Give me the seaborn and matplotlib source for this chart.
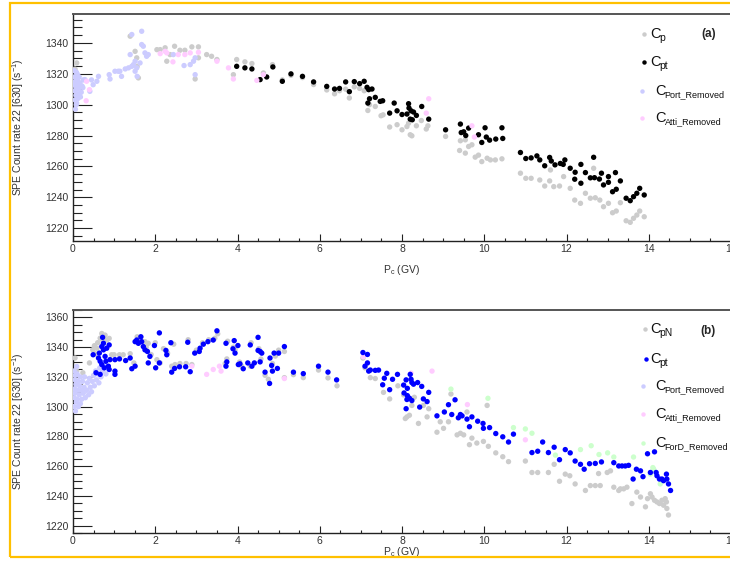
import matplotlib
matplotlib.use("Agg")
import matplotlib.pyplot as plt
from matplotlib.ticker import MultipleLocator
from matplotlib.patches import Rectangle
import seaborn as sns
import pandas as pd

W, H = 730, 567

# ---------------- panel (a) ----------------
a_cp_x = [0.09, 0.05, 0.12, 1.39, 1.51, 1.55, 1.56, 1.59, 2.04, 2.12, 2.24, 2.28, 2.36, 2.47, 2.60,
          2.72, 2.89, 3.05, 3.05, 2.97, 3.25, 3.37, 3.50, 3.90, 3.98, 4.18, 4.35, 4.63, 4.85,
          5.09, 5.30, 5.58, 5.85, 6.17, 6.36, 6.48, 6.63, 6.72, 6.84, 6.97, 7.08, 7.17, 7.21, 7.35,
          7.49, 7.54, 7.70, 7.88, 8.00, 8.12, 8.20, 8.24, 8.35, 8.47, 8.59, 8.63, 8.16, 9.06, 9.42,
          9.54, 9.62, 9.70, 9.40, 9.54, 9.78, 9.86, 9.94, 10.07, 10.15, 10.27, 10.43, 10.88, 11.01,
          11.14, 11.35, 11.47, 11.59, 11.61, 11.69, 11.83, 11.93, 12.09, 12.20, 12.34, 12.46, 12.58,
          12.70, 12.66, 12.81, 12.90, 13.02, 13.12, 13.21, 13.31, 13.45, 13.55, 13.63, 13.71, 13.78,
          13.89]
a_cp_y = [1327.0, 1323.0, 1318.0, 1344.3, 1334.5, 1330.3, 1324.8, 1317.3, 1335.6, 1335.6, 1336.8,
          1328.1, 1332.4, 1337.8, 1335.2, 1335.2, 1337.4, 1337.4, 1330.3, 1316.6, 1332.4, 1331.3,
          1329.2, 1319.4, 1329.2, 1327.7, 1326.6, 1320.5, 1325.9, 1316.0, 1319.0, 1317.5, 1313.0,
          1309.5, 1307.0, 1309.0, 1310.0, 1304.3, 1311.5, 1310.5, 1309.0, 1296.2, 1300.0, 1298.8,
          1292.8, 1293.4, 1285.5, 1287.0, 1283.7, 1285.8, 1280.5, 1279.8, 1286.3, 1289.7, 1284.2,
          1286.3, 1288.0, 1279.4, 1276.6, 1277.2, 1272.9, 1274.0, 1270.3, 1268.6, 1266.0, 1267.3,
          1263.1, 1265.3, 1264.2, 1264.2, 1264.9, 1255.6, 1252.3, 1252.3, 1251.2, 1247.3, 1250.6,
          1257.7, 1246.9, 1247.3, 1253.4, 1245.8, 1238.2, 1236.1, 1242.6, 1239.4, 1239.7, 1258.8,
          1238.2, 1233.9, 1236.1, 1230.0, 1231.1, 1236.5, 1224.8, 1223.8, 1226.4, 1228.5, 1231.1,
          1227.4]

a_cpt_x = [3.98, 4.18, 4.35, 4.55, 4.71, 4.86, 5.09, 5.30, 5.58, 5.85, 6.17, 6.36, 6.48, 6.63,
           6.72, 6.84, 6.97, 7.08, 7.15, 7.19, 7.27, 7.21, 7.17, 7.35, 7.47, 7.53, 7.81, 7.70, 7.88,
           8.00, 8.12, 8.16, 8.17, 8.22, 8.28, 8.20, 8.25, 8.35, 8.48, 8.65, 9.06, 9.42, 9.50, 9.55,
           9.44, 9.62, 9.86, 10.02, 9.94, 10.05, 10.13, 10.28, 10.43, 10.45, 10.88, 11.01, 11.14,
           11.28, 11.35, 11.47, 11.59, 11.63, 11.72, 11.85, 11.92, 11.96, 12.09, 12.21, 12.20, 12.35,
           12.35, 12.46, 12.58, 12.68, 12.66, 12.80, 12.85, 12.90, 13.02, 13.02, 13.12, 13.21, 13.19,
           13.31, 13.45, 13.55, 13.63, 13.71, 13.78, 13.89]
a_cpt_y = [1324.8, 1323.8, 1323.1, 1316.2, 1317.9, 1324.4, 1315.1, 1319.9, 1318.3, 1314.7, 1311.8,
           1310.1, 1310.5, 1314.7, 1308.4, 1314.9, 1313.6, 1315.1, 1311.2, 1309.7, 1310.1, 1303.8,
           1301.0, 1304.7, 1302.1, 1302.5, 1301.0, 1294.5, 1296.0, 1293.6, 1293.9, 1300.6, 1297.8,
           1296.0, 1295.2, 1290.6, 1290.2, 1293.0, 1298.8, 1290.6, 1283.7, 1287.4, 1282.4, 1280.0,
           1281.9, 1284.8, 1280.5, 1285.0, 1275.5, 1279.0, 1277.0, 1277.7, 1285.0, 1278.1, 1269.0,
           1265.1, 1265.5, 1266.8, 1264.2, 1260.4, 1265.8, 1263.5, 1261.0, 1261.9, 1261.3, 1264.2,
           1258.8, 1256.2, 1251.7, 1261.3, 1249.1, 1256.0, 1252.6, 1252.7, 1265.9, 1251.8, 1255.6,
           1248.0, 1253.4, 1249.7, 1243.6, 1245.2, 1256.0, 1250.6, 1239.4, 1237.8, 1240.4, 1242.6,
           1245.8, 1241.5]

a_port_x = [0.03, 0.04, 0.05, 0.06, 0.04, 0.07, 0.05, 0.08, 0.06, 0.10, 0.11, 0.12, 0.10, 0.13,
            0.12, 0.09, 0.15, 0.17, 0.16, 0.20, 0.18, 0.22, 0.25, 0.03, 0.08, 0.24, 0.29, 0.41, 0.45,
            0.49, 0.58, 0.62, 0.90, 0.88, 1.02, 1.10, 1.14, 1.18, 1.27, 1.35, 1.39, 1.43, 1.47, 1.51,
            1.51, 1.55, 1.56, 1.63, 1.43, 1.67, 1.67, 1.71, 1.75, 1.79, 1.83, 2.44, 2.70, 2.85, 2.93,
            2.97, 2.97]
a_port_y = [1322.0, 1318.0, 1315.0, 1312.0, 1309.0, 1306.0, 1303.0, 1300.0, 1297.0, 1320.0, 1316.0,
            1313.0, 1310.0, 1307.0, 1304.0, 1301.0, 1318.0, 1314.0, 1311.0, 1308.0, 1305.0, 1312.0,
            1316.0, 1313.0, 1321.0, 1311.0, 1316.2, 1308.6, 1316.0, 1312.9, 1315.1, 1318.3, 1316.6,
            1319.4, 1321.6, 1321.6, 1321.6, 1318.3, 1323.1, 1323.8, 1332.4, 1324.8, 1325.9, 1328.1,
            1321.6, 1323.8, 1318.3, 1327.0, 1345.4, 1347.5, 1338.9, 1337.8, 1333.5, 1331.3, 1332.4,
            1332.4, 1325.3, 1325.9, 1328.1, 1319.4, 1330.3]

a_atti_x = [0.33, 0.40, 0.32, 2.12, 2.24, 2.28, 2.43, 2.56, 2.72, 2.85, 3.05, 3.50, 3.78, 3.90,
            4.47, 4.63, 8.65, 8.59, 9.70, 9.76]
a_atti_y = [1315.1, 1309.7, 1302.5, 1333.0, 1334.5, 1333.5, 1327.7, 1332.4, 1332.4, 1333.5, 1333.9,
            1328.1, 1323.8, 1316.6, 1315.7, 1319.4, 1303.8, 1294.5, 1286.3, 1279.0]

# ---------------- panel (b) ----------------
b_cpn_x = [0.05, 0.09, 0.24, 0.40, 0.48, 0.54, 0.58, 0.70, 0.72, 0.78, 0.82, 0.88, 0.94, 1.00,
           1.13, 1.22, 1.39, 1.48, 1.56, 1.65, 1.75, 1.83, 2.04, 2.12, 2.40, 2.48, 2.60, 2.75, 2.89,
           0.52, 0.60, 0.66, 1.60, 1.78, 1.90, 2.00, 2.20, 2.30, 2.45, 2.80, 3.00, 3.15, 3.30, 3.45,
           3.52, 3.70, 3.74, 3.76, 3.90, 3.94, 4.05, 4.10, 4.31, 4.33, 4.52, 4.57, 4.67, 4.75, 4.85,
           4.92, 5.00, 5.14, 5.14, 5.36, 5.60, 5.97, 6.20, 6.42,
           7.05, 7.10, 7.23, 7.35, 7.55, 7.70, 7.90, 8.04, 8.08, 8.12, 8.18, 8.24, 8.30, 8.40, 8.52,
           8.61, 8.65, 8.85, 8.93, 9.01, 9.13, 9.19, 9.34, 9.42, 9.50, 9.58, 9.64, 9.70, 9.82, 9.98,
           10.07, 10.10, 10.28, 10.45, 10.59, 11.00, 11.16, 11.30, 11.56, 11.70, 11.83, 11.97, 12.08,
           12.21, 12.46, 12.58, 12.70, 12.82, 12.78, 12.99, 13.07, 13.15, 13.27, 13.31, 13.39, 13.47,
           13.59, 13.71, 13.80, 13.92, 13.97, 14.08, 14.14, 14.20, 14.26, 14.32, 14.36, 14.43, 14.44,
           14.48, 14.40, 14.04]
b_cpn_y = [1332.7, 1323.9, 1322.8, 1329.4, 1338.2, 1335.6, 1339.3, 1349.2, 1344.8, 1348.1, 1344.8,
           1345.9, 1334.9, 1334.9, 1334.9, 1334.9, 1335.6, 1329.4, 1347.0, 1346.6, 1343.7, 1342.6,
           1331.6, 1329.4, 1327.2, 1328.3, 1329.0, 1329.0, 1328.3,
           1341.0, 1343.0, 1346.0, 1345.0, 1340.0, 1335.0, 1343.0, 1339.0, 1336.0, 1342.0, 1345.0,
           1338.0, 1343.0, 1345.0, 1346.0, 1349.0, 1329.0, 1332.1, 1344.0, 1340.0, 1338.2, 1330.0,
           1327.2, 1327.2, 1343.0, 1339.0, 1332.0, 1321.1, 1318.4, 1329.0, 1334.0, 1338.0, 1337.1,
           1319.5, 1321.5, 1319.5, 1324.6, 1319.3, 1314.0,
           1332.7, 1326.1, 1319.5, 1318.9, 1309.6, 1305.2, 1314.0, 1307.9, 1292.0, 1293.1, 1294.2,
           1300.8, 1306.3, 1288.7, 1300.8, 1293.1, 1298.6, 1282.8, 1289.8, 1285.4, 1289.8, 1308.5,
           1281.0, 1282.1, 1281.0, 1296.4, 1274.4, 1278.8, 1275.5, 1276.6, 1300.8, 1273.3, 1268.9,
           1266.3, 1263.0, 1263.4, 1255.7, 1255.7, 1255.7, 1261.2, 1249.8, 1254.6, 1253.5, 1248.0,
           1243.6, 1246.9, 1246.9, 1246.9, 1255.0, 1255.7, 1256.8, 1245.8, 1243.6, 1244.7, 1244.7,
           1245.8, 1234.8, 1242.5, 1239.2, 1232.6, 1238.1, 1239.2, 1237.0, 1235.9, 1234.8, 1237.0,
           1233.7, 1235.9, 1231.5, 1227.1, 1238.1, 1241.4]

b_cpt_x = [0.49, 0.56, 0.66, 0.62, 0.64, 0.66, 0.70, 0.70, 0.72, 0.74, 0.74, 0.78, 0.76, 0.80,
           0.82, 0.86, 0.88, 0.88, 0.90, 1.02, 1.02, 1.02, 1.13, 1.28, 1.39, 1.43, 1.51, 1.51, 1.55,
           1.59, 1.65, 1.67, 1.71, 1.75, 1.81, 1.83, 1.87, 1.98, 2.01, 2.10, 2.10, 2.26, 2.28, 2.38,
           2.40, 2.47, 2.59, 2.74, 2.79, 2.85, 2.96, 3.07, 3.09, 3.17, 3.28, 3.41, 3.50, 3.72, 3.74,
           3.72, 3.89, 3.92, 3.94, 4.01, 4.02, 4.06, 4.14, 4.25, 4.31, 4.35, 4.41, 4.50, 4.50, 4.55,
           4.55, 4.59, 4.67, 4.78, 4.79, 4.83, 4.85, 4.89, 4.97, 5.00, 5.14, 5.36, 5.60, 5.97, 6.20,
           6.41,
           7.05, 7.16, 7.16, 7.10, 7.19, 7.23, 7.35, 7.43, 7.63, 7.57, 7.77, 7.89, 7.53, 7.70, 8.04,
           8.10, 8.13, 8.20, 8.22, 8.24, 8.28, 8.38, 8.48, 8.05, 8.13, 8.18, 8.12, 8.24, 8.10, 8.43,
           8.52, 8.61, 8.65, 8.85, 9.03, 9.13, 9.21, 9.29, 9.37, 9.42, 9.46, 9.58, 9.64, 9.70, 9.84,
           9.97, 9.98, 10.13, 10.28, 10.45, 10.59, 10.71, 11.16, 11.30, 11.42, 11.56, 11.70, 11.83,
           11.97, 12.09, 12.21, 12.34, 12.43, 12.56, 12.70, 12.85, 13.15, 13.27, 13.35, 13.43, 13.51,
           13.62, 13.70, 13.80, 13.86, 13.97, 14.14, 14.04, 14.18, 14.20, 14.26, 14.32, 14.36, 14.43,
           14.44, 14.48, 14.53]
b_cpt_y = [1334.9, 1322.8, 1321.7, 1332.7, 1336.0, 1330.5, 1340.4, 1328.3, 1346.6, 1342.6, 1338.2,
           1333.8, 1326.1, 1330.5, 1339.3, 1327.2, 1341.5, 1325.0, 1331.6, 1323.9, 1321.7, 1331.6,
           1332.1, 1331.0, 1332.7, 1325.5, 1327.2, 1343.7, 1344.8, 1342.6, 1347.0, 1343.7, 1340.4,
           1338.2, 1337.1, 1329.4, 1333.8, 1341.1, 1326.1, 1329.4, 1349.6, 1337.8, 1334.9, 1343.0,
           1323.2, 1325.7, 1326.8, 1326.8, 1343.3, 1323.5, 1336.0, 1337.1, 1339.3, 1342.0, 1343.7,
           1344.8, 1351.0, 1327.2, 1330.1, 1342.6, 1338.9, 1344.4, 1336.0, 1341.1, 1328.3, 1328.8,
           1325.5, 1329.4, 1341.5, 1327.2, 1329.4, 1346.6, 1337.8, 1337.1, 1330.1, 1336.0, 1323.2,
           1315.6, 1332.7, 1327.7, 1323.9, 1336.0, 1325.7, 1336.0, 1340.4, 1323.2, 1322.2, 1327.2,
           1323.2, 1318.0,
           1336.4, 1335.1, 1329.4, 1327.2, 1323.9, 1324.6, 1324.4, 1324.6, 1322.4, 1319.1, 1318.4,
           1321.7, 1314.7, 1311.4, 1314.5, 1318.0, 1312.3, 1321.7, 1318.4, 1316.2, 1315.1, 1316.2,
           1313.6, 1309.2, 1307.4, 1305.7, 1304.8, 1304.1, 1298.6, 1299.7, 1305.2, 1303.4, 1309.6,
           1293.8, 1296.4, 1301.3, 1294.7, 1304.6, 1292.5, 1294.7, 1293.8, 1291.6, 1286.5, 1293.1,
           1290.2, 1288.7, 1285.4, 1285.9, 1281.9, 1279.7, 1276.2, 1281.5, 1269.1, 1270.0, 1276.2,
           1269.1, 1272.7, 1264.3, 1271.1, 1268.9, 1263.4, 1261.2, 1257.9, 1261.6, 1261.8, 1262.8,
           1262.3, 1260.1, 1260.1, 1260.1, 1260.5, 1251.3, 1257.9, 1256.8, 1252.9, 1268.3, 1269.6,
           1255.7, 1255.7, 1253.5, 1251.3, 1251.3, 1250.2, 1254.6, 1251.3, 1248.0, 1243.6]

b_port_x = [0.02, 0.03, 0.04, 0.05, 0.03, 0.06, 0.04, 0.07, 0.05, 0.08, 0.10, 0.11, 0.09, 0.12,
            0.13, 0.10, 0.15, 0.16, 0.18, 0.17, 0.20, 0.21, 0.23, 0.25, 0.27, 0.30, 0.28, 0.33, 0.35,
            0.38, 0.40, 0.42, 0.45, 0.47, 0.50, 0.52, 0.55, 0.57, 0.60, 0.63, 0.65, 0.68, 0.72, 0.75,
            0.80, 0.84]
b_port_y = [1300.0, 1306.0, 1312.0, 1318.0, 1324.0, 1297.0, 1309.0, 1315.0, 1321.0, 1303.0, 1305.0,
            1311.0, 1327.0, 1317.0, 1300.0, 1322.0, 1308.0, 1314.0, 1302.0, 1320.0, 1311.0, 1305.0,
            1317.0, 1309.0, 1313.0, 1306.0, 1320.0, 1311.0, 1316.0, 1308.0, 1319.0, 1313.0, 1310.0,
            1317.0, 1321.0, 1314.0, 1324.0, 1318.0, 1322.0, 1316.0, 1326.0, 1320.0, 1324.0, 1328.0,
            1322.0, 1326.0]

b_atti_x = [2.89, 3.25, 3.41, 3.56, 3.60, 5.14, 7.06, 8.22, 8.73, 9.59, 11.00]
b_atti_y = [1327.2, 1321.7, 1325.0, 1327.2, 1323.9, 1318.9, 1333.5, 1322.5, 1323.9, 1301.4, 1277.7]

b_ford_x = [9.19, 10.09, 10.71, 11.00, 11.16, 11.73, 12.34, 12.60, 12.79, 13.00, 13.15, 13.63,
            14.10, 14.04, 14.12, 14.28]
b_ford_y = [1311.8, 1305.6, 1285.9, 1285.0, 1282.1, 1267.4, 1271.1, 1273.7, 1267.8, 1268.9, 1266.1,
            1266.1, 1259.0, 1254.6, 1257.9, 1248.0]

GREY, BLACK, BLUE = "#cccccc", "#000000", "#0000ff"
LAV, PINK, GREEN = "#ccccff", "#ffccff", "#ccffcc"
TICK_C = "#333333"

sns.set_style("ticks")
plt.rcParams["font.family"] = ["Liberation Sans", "DejaVu Sans"]
plt.rcParams["mathtext.fontset"] = "custom"
plt.rcParams["mathtext.rm"] = "Liberation Sans"
plt.rcParams["mathtext.it"] = "Liberation Sans"

fig = plt.figure(figsize=(W / 100, H / 100), dpi=100)
fig.patch.set_facecolor("white")


def px_axes(left, top, right, bottom):
    return fig.add_axes([left / W, 1 - bottom / H, (right - left) / W, (bottom - top) / H])


def fx(px):
    return px / W


def fy(py):
    return 1 - py / H


ax_a = px_axes(73, 13.5, 731, 241)
ax_b = px_axes(73, 310, 731, 533)


def scatter(ax, xs, ys, color, size=15):
    df = pd.DataFrame({"x": xs, "y": ys})
    sns.scatterplot(data=df, x="x", y="y", ax=ax, color=color, s=size, linewidth=0,
                    edgecolor="none", legend=False, zorder=3)


# panel (a)
scatter(ax_a, a_cp_x, a_cp_y, GREY)
scatter(ax_a, a_cpt_x, a_cpt_y, BLACK)
scatter(ax_a, a_port_x, a_port_y, LAV)
scatter(ax_a, a_atti_x, a_atti_y, PINK)

# panel (b)
scatter(ax_b, b_cpn_x, b_cpn_y, GREY)
scatter(ax_b, b_port_x, b_port_y, LAV)
scatter(ax_b, b_atti_x, b_atti_y, PINK)
scatter(ax_b, b_ford_x, b_ford_y, GREEN)
scatter(ax_b, b_cpt_x, b_cpt_y, BLUE)

for ax, ylim in ((ax_a, (1211.7, 1359.0)), (ax_b, (1215.0, 1365.0))):
    ax.set_xlim(0, 16)
    ax.set_ylim(*ylim)
    ax.xaxis.set_major_locator(MultipleLocator(2))
    ax.xaxis.set_minor_locator(MultipleLocator(0.5))
    ax.yaxis.set_major_locator(MultipleLocator(20))
    ax.yaxis.set_minor_locator(MultipleLocator(5))
    ax.tick_params(axis="y", which="major", direction="in", length=13.7, width=0.8,
                   color="#222222", labelsize=7.5, labelcolor=TICK_C, pad=3.5)
    ax.tick_params(axis="y", which="minor", direction="in", length=6.5, width=0.8, color="#222222")
    ax.tick_params(axis="x", which="major", direction="in", length=5, width=0.8,
                   color="#222222", labelsize=7.5, labelcolor=TICK_C, pad=2.5)
    ax.tick_params(axis="x", which="minor", direction="in", length=2.5, width=0.8, color="#222222")
    for side in ("left", "bottom"):
        ax.spines[side].set_color("#222222")
        ax.spines[side].set_linewidth(1.0)
    ax.spines["top"].set_visible(True)
    ax.spines["top"].set_color("#555555")
    ax.spines["top"].set_linewidth(1.4)
    ax.spines["right"].set_visible(False)
    ax.set_ylabel(r"SPE Count rate 22 [630] (s$^{-1}$)", fontsize=7.5, color=TICK_C)
    ax.yaxis.set_label_coords((26 - 73) / 658, 0.5)
    ax.set_xlabel(r"P$_{\mathrm{c}}$ (GV)", fontsize=7.5, color=TICK_C)
    ax.set_facecolor("white")

ax_a.xaxis.set_label_coords(0.5, -(263 - 241) / 227.5)
ax_b.xaxis.set_label_coords(0.5, -(545 - 533) / 223)


def legend_entry(mx, my, color, cx, sub, subsize=6.5, sub_dy=3.5):
    fig.add_artist(plt.Line2D([fx(mx)], [fy(my)], marker="o", markersize=3.2, color=color,
                              markeredgewidth=0, linestyle="none", transform=fig.transFigure))
    fig.text(fx(cx), fy(my), "C", fontsize=10.5, va="center", ha="left", color="#111111")
    fig.text(fx(cx + 9.5), fy(my + sub_dy), sub, fontsize=subsize, va="center", ha="left",
             color="#111111")


legend_entry(644, 34, GREY, 650, "p", subsize=7.5, sub_dy=4)
legend_entry(644, 62, BLACK, 650, "pt", subsize=7.5, sub_dy=4)
legend_entry(642, 91, LAV, 655, "Port_Removed")
legend_entry(642, 118, PINK, 655, "Atti_Removed")
fig.text(fx(701), fy(34), "(a)", fontsize=8.5, fontweight="bold", va="center", ha="left")

legend_entry(645, 329, GREY, 650, "pN", subsize=7.5, sub_dy=4)
legend_entry(646, 359, BLUE, 650, "pt", subsize=7.5, sub_dy=4)
legend_entry(643, 386, LAV, 655, "Port_Removed")
legend_entry(643, 414, PINK, 655, "Atti_Removed")
legend_entry(643, 443, GREEN, 655, "ForD_Removed")
fig.text(fx(700), fy(331), "(b)", fontsize=8.5, fontweight="bold", va="center", ha="left")

# gold frame around the figure
fig.add_artist(Rectangle((fx(10), fy(557)), fx(760) - fx(10), fy(3) - fy(557),
                         transform=fig.transFigure, fill=False, edgecolor="#ffc000",
                         linewidth=1.6))

fig.savefig("out.png", dpi=100, facecolor="white")
